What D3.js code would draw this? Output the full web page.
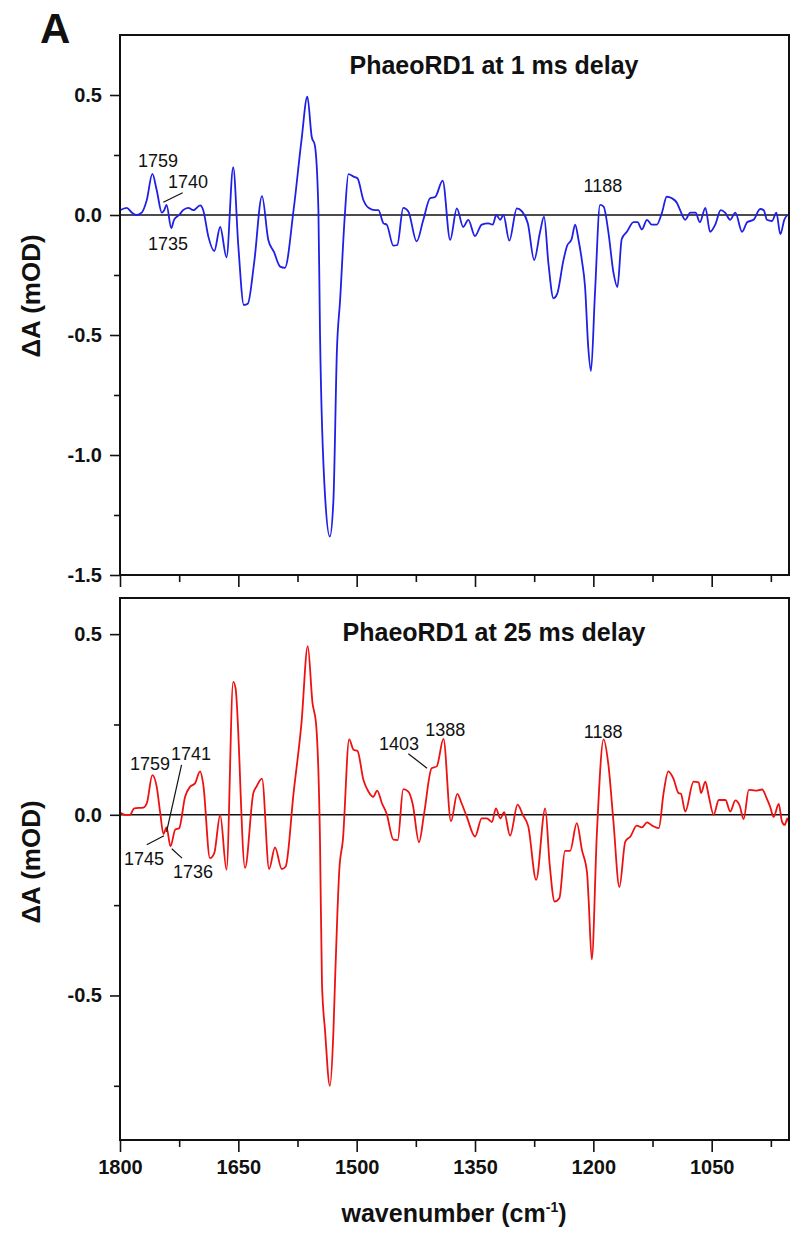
<!DOCTYPE html>
<html>
<head>
<meta charset="utf-8">
<script src="https://cdn.jsdelivr.net/npm/d3@7"></script>
<style>
  body { margin: 0; background: #fff; }
  svg text { font-family: "Liberation Sans", Arial, sans-serif; fill: #111; }
</style>
</head>
<body>
<div id="chart"></div>
<script>

// PhaeoRD1, 1 ms delay (wavenumber in cm-1, dA in mOD)
let wn1ms = [1800, 1791.5, 1785, 1779, 1772.5, 1766, 1759, 1753.5, 1747, 1744, 1741, 1735, 1731.5, 1725, 1720, 1713.5, 1707, 1698.5, 1694.5,
	1688, 1680.5, 1673, 1665, 1656.5, 1650, 1643, 1638, 1630, 1620, 1612, 1605, 1597, 1591, 1580, 1570, 1562.5, 1557, 1553, 1548.5,
	1546.5, 1540, 1534, 1529.5, 1525, 1521, 1515, 1510.5, 1504, 1499, 1491.5, 1485, 1476.5, 1472.5, 1466, 1462, 1453.5, 1448.5, 1441,
	1434.5, 1424, 1415.5, 1407, 1400.5, 1391, 1381.5, 1373, 1365, 1358.5, 1350, 1341.5, 1333, 1327.5, 1323, 1318, 1314, 1306.5, 1297,
	1290.5, 1283, 1275, 1267.5, 1262.5, 1257, 1250.5, 1246, 1238, 1233.5, 1227.5, 1223, 1219, 1214.5, 1210.5, 1206.5, 1203, 1198,
	1191.5, 1187, 1181, 1174.5, 1169.5, 1164, 1157.5, 1149, 1144, 1138.5, 1132, 1126, 1119.5, 1113, 1107, 1100.5, 1094, 1090, 1083.5,
	1077, 1070.5, 1065, 1058, 1052, 1045.5, 1038.5, 1033, 1026.5, 1020, 1011.5, 1005, 997, 988.5, 984, 980, 973.5, 968, 963, 958, 954]
let dA1ms = [0.02, 0.03, 0.01, 0.0, 0.01, 0.063, 0.171, 0.104, 0.01, 0.02, 0.042, -0.055, -0.02, 0.0, 0.02, 0.03, 0.02, 0.04, 0.02,
	-0.09, -0.15, -0.05, -0.176, 0.199, -0.13, -0.375, -0.37, -0.2, 0.079, -0.104, -0.153, -0.215, -0.22, 0.02, 0.31, 0.493, 0.326, 0.29, 0.02,
	-0.49, -1.175, -1.34, -1.19, -0.56, -0.354, 0.0, 0.17, 0.16, 0.153, 0.0625, 0.03, 0.02, 0.02, -0.035, -0.04, -0.128, -0.125, 0.03,
	0.015, -0.11, -0.02, 0.07, 0.075, 0.143, -0.104, 0.028, -0.05, -0.02, -0.0875, -0.04, -0.035, -0.04, 0.0, -0.02, 0.0, -0.107, 0.028,
	0.015, -0.035, -0.1875, -0.07, -0.007, -0.2, -0.347, -0.33, -0.19, -0.13, -0.1, -0.04, -0.1, -0.19, -0.3, -0.55, -0.65, -0.33,
	0.042, 0.035, -0.07, -0.24, -0.30, -0.1, -0.07, -0.03, -0.03, -0.06, -0.02, -0.04, -0.04, 0.01, 0.076, 0.07, 0.05, 0.02, -0.02,
	0.01, 0.01, -0.03, 0.03, -0.07, -0.04, 0.02, 0.01, -0.02, 0.01, -0.07, -0.03, -0.02, 0.025, 0.02, -0.02, -0.025, 0.01, -0.08, -0.02, 0.0]

// PhaeoRD1, 25 ms delay
let wn25ms = [1800, 1793.5, 1787.5, 1782, 1770.5, 1766, 1759, 1753.5, 1749, 1745, 1741, 1736, 1730, 1725, 1717.5, 1711, 1705, 1698.5, 1694.5,
	1686, 1680.5, 1673, 1665, 1656.5, 1653.5, 1641.5, 1631, 1627, 1620, 1611, 1603.5, 1595, 1590, 1580, 1570, 1562, 1556, 1551.5,
	1546.5, 1544, 1540, 1534, 1529.5, 1527.5, 1524.5, 1522, 1517.5, 1509.5, 1504, 1499, 1491.5, 1485, 1479, 1474, 1468, 1462, 1453.5,
	1448, 1441, 1434.5, 1429, 1421, 1414.5, 1405, 1398.5, 1390, 1380.5, 1372.5, 1367, 1360.5, 1350, 1341.5, 1335, 1328.5, 1323.5, 1318,
	1313, 1305.5, 1296, 1289.5, 1282.5, 1272.5, 1261, 1255.5, 1249, 1243, 1236, 1229.5, 1221, 1214.5, 1208, 1206, 1202, 1195.5, 1187,
	1181, 1174.5, 1167, 1159.5, 1153, 1145, 1138.5, 1132, 1125.5, 1117, 1111, 1105, 1098.5, 1092, 1089, 1083.5, 1073, 1066.5, 1063.5,
	1058, 1054, 1047.5, 1041, 1032.5, 1026.5, 1020, 1014.5, 1009.5, 1003, 994.5, 986, 980, 976, 971.5, 965, 961, 957.5, 954, 952]
let dA25ms = [0.006, 0.0, 0.0, 0.018, 0.02, 0.032, 0.11, 0.078, 0.005, -0.053, -0.035, -0.087, -0.041, -0.037, 0.05, 0.078, 0.087, 0.12, 0.085,
	-0.12, -0.106, 0.0, -0.152, 0.368, 0.35, -0.147, 0.06, 0.078, 0.10, -0.15, -0.09, -0.15, -0.143, 0.06, 0.253, 0.467, 0.31, 0.253,
	-0.07, -0.465, -0.60, -0.75, -0.60, -0.465, -0.276, -0.152, -0.07, 0.209, 0.18, 0.177, 0.097, 0.064, 0.05, 0.067, 0.032, 0.003, -0.069,
	-0.07, 0.071, 0.064, 0.03, -0.076, 0.004, 0.129, 0.134, 0.21, -0.018, 0.058, 0.032, -0.005, -0.06, -0.01, -0.01, -0.02, 0.018, -0.01,
	0.007, -0.058, 0.028, 0.0, -0.032, -0.18, 0.018, -0.134, -0.24, -0.23, -0.1, -0.1, -0.023, -0.097, -0.16, -0.235, -0.40, -0.05, 0.209,
	0.14, -0.02, -0.2, -0.074, -0.06, -0.03, -0.035, -0.021, -0.03, -0.037, 0.06, 0.12, 0.1, 0.06, 0.058, 0.009, 0.092, 0.09, 0.06,
	0.092, 0.055, 0.0, 0.041, 0.041, 0.009, 0.04, 0.025, -0.012, 0.069, 0.067, 0.07, 0.044, 0.023, -0.006, 0.03, -0.018, -0.028, -0.01, -0.025]

let xMajorTicks = [1800, 1650, 1500, 1350, 1200, 1050]
let xMinorTicks = [1725, 1575, 1425, 1275, 1125, 975]
let yMajor1ms = [0.5, 0.0, -0.5, -1.0, -1.5]
let yMinor1ms = [0.25, -0.25, -0.75, -1.25]
let yMajor25ms = [0.5, 0.0, -0.5]
let yMinor25ms = [0.25, -0.25, -0.75]

// peak labels: text, wavenumber and dA of the label centre
let labels1ms = [
	{text: '1759', wn: 1751.8, dA: 0.229},
	{text: '1740', wn: 1713.8, dA: 0.139},
	{text: '1735', wn: 1739.1, dA: -0.118},
	{text: '1188', wn: 1188, dA: 0.121}
]
let leaders1ms = [
	{wn1: 1745.1, dA1: 0.053, wn2: 1720.6, dA2: 0.093}
]
let labels25ms = [
	{text: '1759', wn: 1762, dA: 0.141},
	{text: '1741', wn: 1710, dA: 0.170},
	{text: '1745', wn: 1769.6, dA: -0.120},
	{text: '1736', wn: 1707.4, dA: -0.158},
	{text: '1403', wn: 1446.3, dA: 0.196},
	{text: '1388', wn: 1387.6, dA: 0.235},
	{text: '1188', wn: 1187.6, dA: 0.230}
]
let leaders25ms = [
	{wn1: 1722, dA1: 0.138, wn2: 1741, dA2: -0.047},
	{wn1: 1766.1, dA1: -0.083, wn2: 1744.2, dA2: -0.058},
	{wn1: 1734.4, dA1: -0.094, wn2: 1721.4, dA2: -0.120},
	{wn1: 1434.5, dA1: 0.169, wn2: 1410.8, dA2: 0.129}
]

let width = 796
let height = 1237
let left = 120
let right = 789
let fontFamily = '"Liberation Sans", Arial, sans-serif'

const svg = d3.select('#chart')
	.append('svg')
	.attr('width', width)
	.attr('height', height)

let xScale = d3.scaleLinear()
	.domain([1800, 952])
	.range([left, right])

// plain hyphen for negatives, like the original
let yFormat = d => d3.format('.1f')(d).replace('\u2212', '-')

function styleTicks(a){
	a.select('.domain').remove()
	a.selectAll('line').attr('stroke', '#111').attr('stroke-width', 1.6)
	a.selectAll('text').attr('font-size', 20).attr('font-weight', 'bold').attr('fill', '#111')
		.attr('font-family', fontFamily)
}

function drawPanel(cfg){

	let yScale = d3.scaleLinear()
		.domain(cfg.yDomain)
		.range([cfg.bottom, cfg.top])

	let g = svg.append('g')

	// zero line
	g.append('line')
		.attr('x1', left).attr('x2', right)
		.attr('y1', yScale(0)).attr('y2', yScale(0))
		.attr('stroke', '#111')
		.attr('stroke-width', 1.6)

	let points = cfg.wn.map((w, i) => [w, cfg.dA[i]])

	let line = d3.line()
		.x(d => xScale(d[0]))
		.y(d => yScale(d[1]))
		.curve(d3.curveMonotoneX)

	g.append('path')
		.datum(points)
		.attr('d', line)
		.attr('fill', 'none')
		.attr('stroke', cfg.color)
		.attr('stroke-width', 1.8)
		.attr('stroke-linejoin', 'round')

	// y axis
	g.append('g')
		.attr('transform', `translate(${left},0)`)
		.call(d3.axisLeft(yScale).tickValues(cfg.yMajor).tickSize(10).tickPadding(8).tickFormat(yFormat))
		.call(styleTicks)

	g.append('g')
		.attr('transform', `translate(${left},0)`)
		.call(d3.axisLeft(yScale).tickValues(cfg.yMinor).tickSize(6).tickFormat(''))
		.call(styleTicks)

	// x axis
	let xMajor = d3.axisBottom(xScale).tickValues(xMajorTicks).tickSize(12).tickPadding(8).tickFormat(d3.format('d'))
	if(!cfg.xLabels) xMajor.tickFormat('')

	g.append('g')
		.attr('transform', `translate(0,${cfg.bottom})`)
		.call(xMajor)
		.call(styleTicks)

	g.append('g')
		.attr('transform', `translate(0,${cfg.bottom})`)
		.call(d3.axisBottom(xScale).tickValues(xMinorTicks).tickSize(7).tickFormat(''))
		.call(styleTicks)

	// frame
	g.append('rect')
		.attr('x', left)
		.attr('y', cfg.top)
		.attr('width', right - left)
		.attr('height', cfg.bottom - cfg.top)
		.attr('fill', 'none')
		.attr('stroke', '#111')
		.attr('stroke-width', 2)

	// title
	g.append('text')
		.attr('x', 494)
		.attr('y', cfg.titleY)
		.attr('text-anchor', 'middle')
		.attr('font-size', 25)
		.attr('font-weight', 'bold')
		.text(cfg.title)

	// y label
	g.append('text')
		.attr('transform', `translate(40,${cfg.labelY}) rotate(-90)`)
		.attr('text-anchor', 'middle')
		.attr('font-size', 26)
		.attr('font-weight', 'bold')
		.text('ΔA (mOD)')

	// peak labels
	g.selectAll('.peak')
		.data(cfg.labels)
		.enter()
		.append('text')
		.attr('x', d => xScale(d.wn))
		.attr('y', d => yScale(d.dA))
		.attr('dy', '0.36em')
		.attr('text-anchor', 'middle')
		.attr('font-size', 18)
		.text(d => d.text)

	g.selectAll('.leader')
		.data(cfg.leaders)
		.enter()
		.append('line')
		.attr('x1', d => xScale(d.wn1))
		.attr('y1', d => yScale(d.dA1))
		.attr('x2', d => xScale(d.wn2))
		.attr('y2', d => yScale(d.dA2))
		.attr('stroke', '#111')
		.attr('stroke-width', 1.2)
}

drawPanel({
	top: 35, bottom: 575, yDomain: [-1.5, 0.75],
	wn: wn1ms, dA: dA1ms, color: '#1f1fe6',
	yMajor: yMajor1ms, yMinor: yMinor1ms,
	xLabels: false, title: 'PhaeoRD1 at 1 ms delay', titleY: 74, labelY: 296,
	labels: labels1ms, leaders: leaders1ms
})

drawPanel({
	top: 598, bottom: 1140, yDomain: [-0.9, 0.6],
	wn: wn25ms, dA: dA25ms, color: '#ee1111',
	yMajor: yMajor25ms, yMinor: yMinor25ms,
	xLabels: true, title: 'PhaeoRD1 at 25 ms delay', titleY: 641, labelY: 862,
	labels: labels25ms, leaders: leaders25ms
})

// x label with superscript
let xLabel = svg.append('text')
	.attr('x', 454)
	.attr('y', 1222)
	.attr('text-anchor', 'middle')
	.attr('font-size', 25)
	.attr('font-weight', 'bold')

xLabel.append('tspan').text('wavenumber (cm')
xLabel.append('tspan').attr('dy', -10).attr('font-size', 14).text('-1')
xLabel.append('tspan').attr('dy', 10).text(')')

// panel letter
svg.append('text')
	.attr('x', 40)
	.attr('y', 43)
	.attr('font-size', 42)
	.attr('font-weight', 'bold')
	.text('A')

</script>
</body>
</html>
